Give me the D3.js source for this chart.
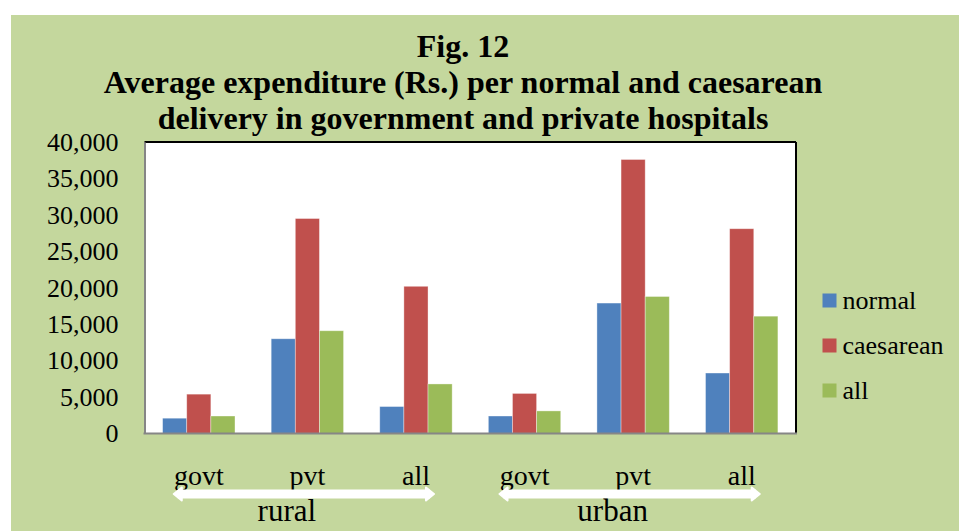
<!DOCTYPE html>
<html>
<head>
<meta charset="utf-8">
<script src="https://cdn.jsdelivr.net/npm/d3@7"></script>
<style>
  html, body { margin: 0; padding: 0; background: #ffffff; }
  svg { display: block; }
</style>
</head>
<body>
<svg id="chart" width="959" height="531"></svg>
<script>
// ---- data ----
const categories = ["rural govt", "rural pvt", "rural all", "urban govt", "urban pvt", "urban all"];
const categoryLabels = ["govt", "pvt", "all", "govt", "pvt", "all"];
const groups = ["rural", "urban"];
const seriesNames = ["normal", "caesarean", "all"];
const normalValues    = [2100, 13000, 3700, 2400, 17900, 8300];
const caesareanValues = [5400, 29500, 20200, 5500, 37600, 28100];
const allValues       = [2400, 14100, 6800, 3100, 18800, 16100];
const yTicks = [0, 5000, 10000, 15000, 20000, 25000, 30000, 35000, 40000];
const titleLines = ["Fig. 12", "Average expenditure (Rs.) per normal and caesarean", "delivery in government and private hospitals"];

const seriesValues = [normalValues, caesareanValues, allValues];
const colors = ["#4F81BD", "#C0504D", "#9BBB59"];
const SERIF = "'Liberation Serif', 'Times New Roman', Times, serif";

const svg = d3.select("#chart").style("font-family", SERIF);

function txt(sel) { return sel.style("font-family", SERIF).attr("fill", "#000"); }

// background panel
svg.append("rect").attr("x", 11).attr("y", 15).attr("width", 948).attr("height", 516).attr("fill", "#C4D79D");

const plot = { left: 144.5, right: 796, top: 142, bottom: 433.5 };

// title
const title = svg.append("g");
titleLines.forEach((t, i) => {
  txt(title.append("text"))
    .attr("x", 463).attr("y", 57 + i * 36)
    .attr("text-anchor", "middle")
    .attr("font-size", 32).attr("font-weight", "bold")
    .text(t);
});

// scales
const x0 = d3.scaleBand().domain(categories).range([plot.left, plot.right]).paddingInner(1/3).paddingOuter(1/6);
const x1 = d3.scaleBand().domain(seriesNames).range([0, x0.bandwidth()]);
const y = d3.scaleLinear().domain([0, 40000]).range([plot.bottom, plot.top]);

// plot area
svg.append("rect").attr("x", plot.left).attr("y", plot.top)
  .attr("width", plot.right - plot.left).attr("height", plot.bottom - plot.top)
  .attr("fill", "#ffffff");

// bars
const barData = [];
categories.forEach((c, ci) => {
  seriesNames.forEach((s, si) => {
    barData.push({ cat: c, series: s, value: seriesValues[si][ci], color: colors[si] });
  });
});
svg.append("g").selectAll("rect").data(barData).join("rect")
  .attr("x", d => x0(d.cat) + x1(d.series))
  .attr("y", d => y(d.value))
  .attr("width", x1.bandwidth())
  .attr("height", d => y(0) - y(d.value))
  .attr("fill", d => d.color)
  .attr("stroke", "#ffffff").attr("stroke-opacity", 0.45).attr("stroke-width", 0.8);

// frame: top & right black, left & bottom gray axes
svg.append("line").attr("x1", plot.left).attr("x2", plot.right).attr("y1", plot.top).attr("y2", plot.top)
  .attr("stroke", "#000").attr("stroke-width", 1.8);
svg.append("line").attr("x1", plot.right).attr("x2", plot.right).attr("y1", plot.top).attr("y2", plot.bottom)
  .attr("stroke", "#000").attr("stroke-width", 2);

// y axis
const yAxis = svg.append("g").attr("transform", `translate(${plot.left},0)`)
  .call(d3.axisLeft(y).tickValues(yTicks).tickSize(0).tickPadding(26).tickFormat(d3.format(",")));
yAxis.attr("font-family", null);
yAxis.select(".domain").attr("stroke", "#868686").attr("stroke-width", 2);
txt(yAxis.selectAll("text")).attr("font-size", 26);

// bottom axis line
svg.append("line").attr("x1", plot.left - 1).attr("x2", plot.right + 1).attr("y1", plot.bottom).attr("y2", plot.bottom)
  .attr("stroke", "#868686").attr("stroke-width", 2);

// category labels
const xAxis = svg.append("g").attr("transform", "translate(0,485)")
  .call(d3.axisBottom(x0).tickSize(0).tickFormat((d, i) => categoryLabels[i]));
xAxis.attr("font-family", null);
xAxis.select(".domain").remove();
txt(xAxis.selectAll("text")).attr("y", 0).attr("dy", 0).attr("font-size", 28);

// group arrows + labels
groups.forEach((g, gi) => {
  const first = categories[gi * 3], last = categories[gi * 3 + 2];
  const xs = x0(first) + x0.bandwidth() / 2 - 25;
  const xe = x0(last) + x0.bandwidth() / 2 + 18;
  const ay = 494;
  const ag = svg.append("g");
  ag.append("line").attr("x1", xs + 4).attr("x2", xe - 4).attr("y1", ay).attr("y2", ay)
    .attr("stroke", "#ffffff").attr("stroke-width", 9);
  ag.append("path")
    .attr("d", `M${xs},${ay} L${xs + 8},${ay - 6.5} L${xs + 8},${ay + 6.5} Z M${xe},${ay} L${xe - 8},${ay - 6.5} L${xe - 8},${ay + 6.5} Z`)
    .attr("fill", "#ffffff").attr("stroke", "#ffffff").attr("stroke-width", 2).attr("stroke-linejoin", "round");
  txt(svg.append("text")).attr("x", (xs + xe) / 2 - 17).attr("y", 521)
    .attr("text-anchor", "middle").attr("font-size", 31).text(g);
});

// legend
const legend = svg.append("g").attr("transform", "translate(822.5,293.5)");
seriesNames.forEach((s, i) => {
  const row = legend.append("g").attr("transform", `translate(0,${i * 45})`);
  row.append("rect").attr("width", 14).attr("height", 14).attr("fill", colors[i]);
  txt(row.append("text")).attr("x", 20).attr("y", 15).attr("font-size", 26).text(s);
});
</script>
</body>
</html>
